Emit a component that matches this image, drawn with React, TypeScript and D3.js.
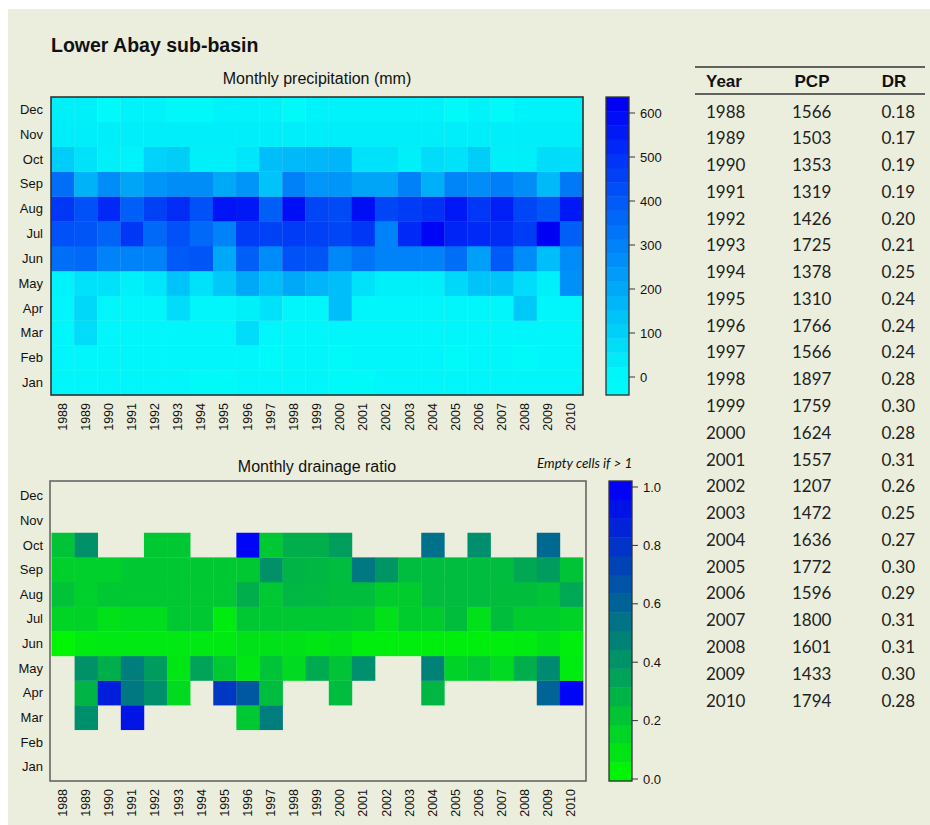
import React from "react";
import * as d3 from "d3";

// ---- Categories ----
const years = [1988, 1989, 1990, 1991, 1992, 1993, 1994, 1995, 1996, 1997, 1998, 1999,
  2000, 2001, 2002, 2003, 2004, 2005, 2006, 2007, 2008, 2009, 2010];
const months = ["Jan", "Feb", "Mar", "Apr", "May", "Jun", "Jul", "Aug", "Sep", "Oct", "Nov", "Dec"];

// ---- Monthly precipitation (mm), one array per month, 1988..2010 ----
const pcpJan = [10, 10, 10, 10, 10, 10, 0, 0, 10, 10, 10, 10, 0, 0, 10, 10, 10, 10, 10, 10, 10, 10, 10];
const pcpFeb = [10, 10, 10, 10, 10, 10, 10, 10, 10, 0, 10, 10, 0, 10, 10, 10, 10, 0, 10, 10, 0, 10, 10];
const pcpMar = [10, 75, 10, 10, 10, 10, 10, 10, 75, 10, 10, 10, 10, 10, 10, 10, 10, 10, 10, 10, 10, 10, 10];
const pcpApr = [10, 85, 10, 10, 10, 75, 10, 10, 25, 60, 10, 10, 150, 10, 10, 10, 10, 10, 10, 10, 124, 10, 10];
const pcpMay = [20, 60, 60, 25, 50, 135, 60, 124, 200, 150, 200, 170, 150, 60, 25, 25, 25, 85, 135, 135, 75, 25, 260];
const pcpJun = [347, 360, 298, 298, 298, 397, 410, 200, 385, 273, 420, 410, 285, 335, 298, 298, 298, 347, 223, 397, 273, 150, 273];
const pcpJul = [420, 410, 372, 485, 360, 420, 360, 298, 470, 460, 470, 460, 446, 485, 298, 520, 608, 533, 520, 510, 470, 620, 385];
const pcpAug = [485, 420, 520, 385, 460, 510, 420, 570, 560, 385, 585, 446, 435, 585, 446, 470, 496, 560, 485, 546, 446, 410, 560];
const pcpSep = [347, 175, 270, 210, 250, 270, 270, 200, 250, 135, 300, 250, 250, 210, 210, 300, 185, 290, 270, 310, 270, 160, 320];
const pcpOct = [110, 60, 25, 20, 100, 110, 25, 25, 50, 150, 160, 165, 170, 60, 60, 25, 75, 60, 110, 25, 25, 75, 70];
const pcpNov = [30, 30, 30, 30, 30, 30, 30, 30, 30, 30, 30, 30, 30, 30, 30, 30, 30, 30, 30, 30, 30, 30, 30];
const pcpDec = [25, 25, 0, 20, 20, 5, 5, 20, 20, 20, 0, 20, 20, 20, 20, 20, 20, 0, 20, 0, 20, 20, 20];
const pcpRows = [pcpJan, pcpFeb, pcpMar, pcpApr, pcpMay, pcpJun, pcpJul, pcpAug, pcpSep, pcpOct, pcpNov, pcpDec];

// ---- Monthly drainage ratio (null = empty cell, ratio > 1) ----
const N = null;
const drJan = [N, N, N, N, N, N, N, N, N, N, N, N, N, N, N, N, N, N, N, N, N, N, N];
const drFeb = [N, N, N, N, N, N, N, N, N, N, N, N, N, N, N, N, N, N, N, N, N, N, N];
const drMar = [N, 0.43, N, 0.92, N, N, N, N, 0.2, 0.5, N, N, N, N, N, N, N, N, N, N, N, N, N];
const drApr = [N, 0.28, 0.88, 0.52, 0.43, 0.13, N, 0.78, 0.65, 0.25, N, N, 0.25, N, N, N, 0.27, N, N, N, N, 0.6, 0.98];
const drMay = [N, 0.42, 0.3, 0.5, 0.38, 0.08, 0.35, 0.2, 0.08, 0.22, 0.13, 0.32, 0.22, 0.43, N, N, 0.48, 0.16, 0.2, 0.13, 0.3, 0.45, 0.06];
const drJun = [0.02, 0.06, 0.07, 0.07, 0.07, 0.07, 0.07, 0.07, 0.1, 0.1, 0.1, 0.08, 0.1, 0.05, 0.05, 0.05, 0.05, 0.05, 0.05, 0.05, 0.06, 0.1, 0.05];
const drJul = [0.15, 0.16, 0.1, 0.12, 0.12, 0.2, 0.2, 0.06, 0.2, 0.2, 0.2, 0.2, 0.2, 0.18, 0.1, 0.18, 0.18, 0.24, 0.1, 0.24, 0.18, 0.18, 0.16];
const drAug = [0.22, 0.17, 0.2, 0.2, 0.2, 0.2, 0.2, 0.2, 0.3, 0.2, 0.27, 0.26, 0.24, 0.24, 0.18, 0.18, 0.25, 0.25, 0.25, 0.24, 0.24, 0.22, 0.33];
const drSep = [0.17, 0.17, 0.17, 0.2, 0.2, 0.2, 0.2, 0.2, 0.2, 0.42, 0.28, 0.27, 0.25, 0.52, 0.4, 0.25, 0.25, 0.25, 0.25, 0.25, 0.33, 0.38, 0.22];
const drOct = [0.22, 0.42, N, N, 0.2, 0.2, N, N, 0.98, 0.2, 0.3, 0.3, 0.37, N, N, N, 0.55, N, 0.43, N, N, 0.58, N];
const drNov = [N, N, N, N, N, N, N, N, N, N, N, N, N, N, N, N, N, N, N, N, N, N, N];
const drDec = [N, N, N, N, N, N, N, N, N, N, N, N, N, N, N, N, N, N, N, N, N, N, N];
const drRows = [drJan, drFeb, drMar, drApr, drMay, drJun, drJul, drAug, drSep, drOct, drNov, drDec];

// ---- Annual summary table ----
const tableYears = years;
const annualPcp = [1566, 1503, 1353, 1319, 1426, 1725, 1378, 1310, 1766, 1566, 1897, 1759,
  1624, 1557, 1207, 1472, 1636, 1772, 1596, 1800, 1601, 1433, 1794];
const annualDr = ["0.18", "0.17", "0.19", "0.19", "0.20", "0.21", "0.25", "0.24", "0.24", "0.24", "0.28", "0.30",
  "0.28", "0.31", "0.26", "0.25", "0.27", "0.30", "0.29", "0.31", "0.31", "0.30", "0.28"];

// ---- Tick labels ----
const pcpTicks = [0, 100, 200, 300, 400, 500, 600];
const drTicks = [0, 0.2, 0.4, 0.6, 0.8, 1.0];

const SANS = "'Liberation Sans', Arial, sans-serif";
const BG = "#ECEEDD";

// colour scales
const pcpColorInterp = d3.interpolateRgb("rgb(0,250,250)", "rgb(0,0,245)");
const pcpNorm = d3.scaleLinear().domain([0, 620]).range([0, 1]).clamp(true);
const pcpColor = (v: number) => pcpColorInterp(pcpNorm(v));

const drColorInterp = d3.interpolateRgb("rgb(0,250,0)", "rgb(0,0,250)");
const drNorm = d3.scaleLinear().domain([0, 1]).range([0, 1]).clamp(true);
const drColor = (v: number) => drColorInterp(drNorm(v));

const monthsTopDown = months.slice().reverse();

function Heatmap({ rows, color, x, y, frame, frameColor }: any) {
  const cells: any[] = [];
  rows.forEach((row: (number | null)[], mi: number) => {
    row.forEach((v, yi) => {
      if (v === null || v === undefined) return;
      cells.push(
        <rect key={`${mi}-${yi}`} x={x(years[yi])} y={y(months[mi])}
          width={x.bandwidth() + 0.3} height={y.bandwidth() + 0.3}
          fill={color(v)} />
      );
    });
  });
  return (
    <g>
      {cells}
      <rect x={frame.x} y={frame.y} width={frame.w} height={frame.h}
        fill="none" stroke={frameColor} strokeWidth={1.6} />
      {monthsTopDown.map((m) => (
        <text key={m} x={43} y={y(m) + y.bandwidth() / 2} textAnchor="end"
          dominantBaseline="central" fontFamily={SANS} fontSize={13} fill="#111">{m}</text>
      ))}
      {years.map((yr) => (
        <text key={yr} transform={`translate(${x(yr) + x.bandwidth() / 2},${frame.y + frame.h + 8}) rotate(-90)`}
          textAnchor="end" dominantBaseline="central" fontFamily={SANS} fontSize={12.5} fill="#111">{yr}</text>
      ))}
    </g>
  );
}

function ColorBar({ scale, barTop, barBottom, bandsN, color, x, w, ticks, fmt }: any) {
  const vBot = scale.invert(barBottom);
  const vTop = scale.invert(barTop);
  const step = (vTop - vBot) / bandsN;
  const bands = d3.range(bandsN).map((i) => {
    const a = vBot + i * step;
    const b = a + step;
    return { y: scale(b), h: scale(a) - scale(b), c: color((a + b) / 2) };
  });
  return (
    <g>
      {bands.map((b, i) => (
        <rect key={i} x={x} y={b.y} width={w} height={b.h + 0.4} fill={b.c} />
      ))}
      <rect x={x} y={barTop} width={w} height={barBottom - barTop} fill="none" stroke="#333" strokeWidth={1.3} />
      {ticks.map((t: number) => (
        <g key={t}>
          <line x1={x + w} x2={x + w + 6} y1={scale(t)} y2={scale(t)} stroke="#333" strokeWidth={1} />
          <text x={x + w + 11} y={scale(t)} dominantBaseline="central" fontFamily={SANS}
            fontSize={13} fill="#111">{fmt(t)}</text>
        </g>
      ))}
    </g>
  );
}

export default function App() {
  const W = 930, H = 825;

  // precipitation panel
  const xTop = d3.scaleBand<number>().domain(years).range([51, 583]);
  const yTop = d3.scaleBand<string>().domain(monthsTopDown).range([97, 395]);
  // drainage ratio panel
  const xBot = d3.scaleBand<number>().domain(years).range([51.5, 583]);
  const yBot = d3.scaleBand<string>().domain(monthsTopDown).range([483.5, 779]);

  const pcpBarScale = d3.scaleLinear().domain([0, 600]).range([377, 113]);
  const drBarScale = d3.scaleLinear().domain([0, 1]).range([779, 487]);

  const rowY = d3.scaleLinear().domain([0, tableYears.length - 1]).range([111, 700]);

  return (
    <svg width={W} height={H} style={{ position: "absolute", left: 0, top: 0 }}>
      <rect x={0} y={0} width={W} height={H} fill="#ffffff" />
      <rect x={8} y={9} width={W - 8} height={H - 9} fill={BG} />

      <text x={51} y={52} fontFamily={SANS} fontWeight="bold" fontSize={19.5} fill="#111">Lower Abay sub-basin</text>

      <text x={317} y={78} textAnchor="middle" dominantBaseline="central" fontFamily={SANS} fontSize={16} fill="#111">Monthly precipitation (mm)</text>
      <Heatmap rows={pcpRows} color={pcpColor} x={xTop} y={yTop}
        frame={{ x: 51, y: 97, w: 532, h: 298 }} frameColor="#333" />
      <ColorBar scale={pcpBarScale} barTop={97} barBottom={395} bandsN={21} color={pcpColor}
        x={606} w={23} ticks={pcpTicks} fmt={(t: number) => String(t)} />

      <text x={317} y={466} textAnchor="middle" dominantBaseline="central" fontFamily={SANS} fontSize={16} fill="#111">Monthly drainage ratio</text>
      <text x={537} y={463} dominantBaseline="central" fontFamily="Lato, sans-serif" fontStyle="italic" fontSize={13.5} fill="#111">Empty cells if &gt; 1</text>
      <Heatmap rows={drRows} color={drColor} x={xBot} y={yBot}
        frame={{ x: 50, y: 481, w: 536, h: 300 }} frameColor="#666" />
      <ColorBar scale={drBarScale} barTop={481} barBottom={781} bandsN={16} color={drColor}
        x={609} w={23} ticks={drTicks} fmt={d3.format(".1f")} />

      {/* summary table */}
      <line x1={695} x2={925} y1={67} y2={67} stroke="#333" strokeWidth={1.5} />
      <line x1={695} x2={925} y1={94} y2={94} stroke="#333" strokeWidth={1.5} />
      <text x={706} y={81} dominantBaseline="central" fontFamily={SANS} fontWeight="bold" fontSize={17} fill="#111">Year</text>
      <text x={812} y={81} textAnchor="middle" dominantBaseline="central" fontFamily={SANS} fontWeight="bold" fontSize={17} fill="#111">PCP</text>
      <text x={894} y={81} textAnchor="middle" dominantBaseline="central" fontFamily={SANS} fontWeight="bold" fontSize={17} fill="#111">DR</text>
      {tableYears.map((yr, i) => (
        <g key={yr} fontFamily="Lato, sans-serif" fontSize={17} fill="#222">
          <text x={706} y={rowY(i)} dominantBaseline="central">{yr}</text>
          <text x={792} y={rowY(i)} dominantBaseline="central">{annualPcp[i]}</text>
          <text x={915} y={rowY(i)} textAnchor="end" dominantBaseline="central">{annualDr[i]}</text>
        </g>
      ))}
    </svg>
  );
}
